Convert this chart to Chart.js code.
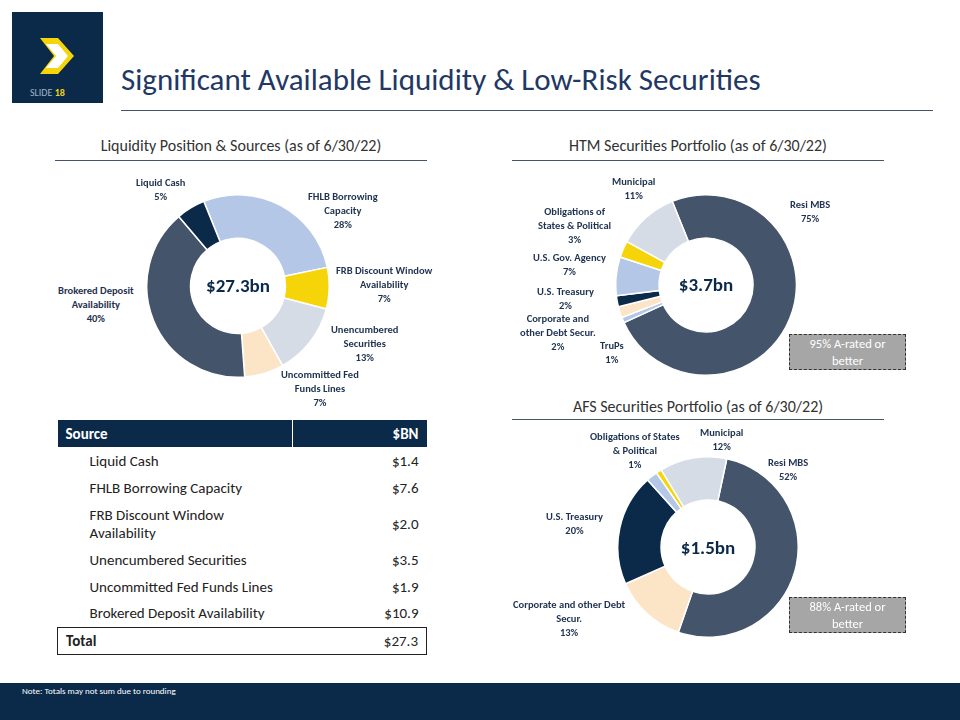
<!DOCTYPE html><html><head><meta charset="utf-8">
<script src="https://cdn.jsdelivr.net/npm/chart.js@4"></script>
<style>
body{margin:0;width:960px;height:720px;position:relative;font-family:Calibri,"Liberation Sans",Carlito,"Open Sans",sans-serif;background:#fff;overflow:hidden}
.a{position:absolute}
.lb{position:absolute;font-size:10.5px;font-weight:bold;color:#1F3350;text-align:center;line-height:14px;white-space:nowrap}
.st{position:absolute;font-size:16px;color:#333;text-align:center}
.ul{position:absolute;height:1px;background:#44546A}
.c{position:absolute;font-size:19px;font-weight:bold;color:#0B2A4A;text-align:center;width:100px}
table{border-collapse:collapse;font-size:15px;color:#222}
.badge{position:absolute;background:#A6A6A6;border:1.5px dashed #333;color:#fff;font-size:12.5px;text-align:center;line-height:17px}
</style></head><body>
<div class="a" style="left:12px;top:12px;width:91px;height:91px;background:#0B2A4A"></div>
<svg class="a" style="left:40px;top:38px" width="40" height="40"><polygon points="0,0 18,0 34,18 18,36 0,36 14,18" fill="#F5D50A"/><polygon points="6,6 18,6 28,18 18,30 6,30 16,18" fill="#fff"/></svg>
<div class="a" style="left:30px;top:86px;font-size:10px;color:#9FB3C8">SLIDE <b style="color:#F5D50A">18</b></div>
<div class="a" style="left:121px;top:60px;font-size:31px;color:#1F3864">Significant Available Liquidity &amp; Low-Risk Securities</div>
<div class="ul" style="left:121px;top:110px;width:812px"></div>
<div class="st" style="left:55px;top:136px;width:372px">Liquidity Position &amp; Sources (as of 6/30/22)</div>
<div class="ul" style="left:55px;top:160px;width:372px"></div>
<div class="st" style="left:512px;top:136px;width:372px">HTM Securities Portfolio (as of 6/30/22)</div>
<div class="ul" style="left:512px;top:160px;width:372px"></div>
<div class="st" style="left:512px;top:397px;width:372px">AFS Securities Portfolio (as of 6/30/22)</div>
<div class="ul" style="left:512px;top:419px;width:372px"></div>

<div class="a" style="left:146px;top:194px;width:184px;height:184px"><canvas id="c1" width="184" height="184"></canvas></div>
<div class="a" style="left:615px;top:194px;width:182px;height:182px"><canvas id="c2" width="182" height="182"></canvas></div>
<div class="a" style="left:617px;top:456px;width:182px;height:182px"><canvas id="c3" width="182" height="182"></canvas></div>
<div class="c" style="left:188px;top:274px">$27.3bn</div>
<div class="c" style="left:656px;top:273px">$3.7bn</div>
<div class="c" style="left:658px;top:536px">$1.5bn</div>

<div class="lb" style="left:136px;top:176px">Liquid Cash<br>5%</div>
<div class="lb" style="left:308px;top:190px">FHLB Borrowing<br>Capacity<br>28%</div>
<div class="lb" style="left:336px;top:264px">FRB Discount Window<br>Availability<br>7%</div>
<div class="lb" style="left:331px;top:323px">Unencumbered<br>Securities<br>13%</div>
<div class="lb" style="left:281px;top:368px">Uncommitted Fed<br>Funds Lines<br>7%</div>
<div class="lb" style="left:58px;top:284px">Brokered Deposit<br>Availability<br>40%</div>

<div class="lb" style="left:612px;top:175px">Municipal<br>11%</div>
<div class="lb" style="left:790px;top:198px">Resi MBS<br>75%</div>
<div class="lb" style="left:538px;top:205px">Obligations of<br>States &amp; Political<br>3%</div>
<div class="lb" style="left:533px;top:251px">U.S. Gov. Agency<br>7%</div>
<div class="lb" style="left:537px;top:285px">U.S. Treasury<br>2%</div>
<div class="lb" style="left:520px;top:312px">Corporate and<br>other Debt Secur.<br>2%</div>
<div class="lb" style="left:600px;top:339px">TruPs<br>1%</div>
<div class="badge" style="left:789px;top:334px;width:115px;height:34px">95% A-rated or<br>better</div>

<div class="lb" style="left:590px;top:430px">Obligations of States<br>&amp; Political<br>1%</div>
<div class="lb" style="left:700px;top:426px">Municipal<br>12%</div>
<div class="lb" style="left:768px;top:456px">Resi MBS<br>52%</div>
<div class="lb" style="left:546px;top:510px">U.S. Treasury<br>20%</div>
<div class="lb" style="left:513px;top:598px">Corporate and other Debt<br>Secur.<br>13%</div>
<div class="badge" style="left:789px;top:597px;width:115px;height:34px">88% A-rated or<br>better</div>

<div class="a" style="left:57px;top:420px;width:370px">
<table id="t" style="width:370px;table-layout:fixed"></table></div>

<div class="a" style="left:0;top:683px;width:960px;height:37px;background:#0B2A4A"></div>
<div class="a" style="left:22px;top:685px;font-size:9px;color:#fff">Note: Totals may not sum due to rounding</div>
<script>
const liqLabels=["FHLB Borrowing Capacity","FRB Discount Window Availability","Unencumbered Securities","Uncommitted Fed Funds Lines","Brokered Deposit Availability","Liquid Cash"];
const liqValues=[7.6,2.0,3.5,1.9,10.9,1.4];
const htmLabels=["Resi MBS","TruPs","Corporate and other Debt Secur.","U.S. Treasury","U.S. Gov. Agency","Obligations of States & Political","Municipal"];
const htmValues=[75,1,2,2,7,3,11];
const afsLabels=["Resi MBS","Corporate and other Debt Secur.","U.S. Treasury","Other","Obligations of States & Political","Municipal"];
const afsValues=[52,13,20,2,1,12];
const tableSources=["Liquid Cash","FHLB Borrowing Capacity","FRB Discount Window Availability","Unencumbered Securities","Uncommitted Fed Funds Lines","Brokered Deposit Availability"];
const tableValues=["$1.4","$7.6","$2.0","$3.5","$1.9","$10.9"];
const C={slate:"#44546A",lb:"#B4C7E7",y:"#F5D50A",g:"#D6DCE5",p:"#FCE4C6",n:"#0B2A4A"};
function dn(id,labels,data,colors,rot){new Chart(document.getElementById(id),{type:"doughnut",data:{labels,datasets:[{data,backgroundColor:colors,borderColor:"#fff",borderWidth:1.5}]},options:{responsive:false,animation:false,cutout:"52%",rotation:rot,plugins:{legend:{display:false},tooltip:{enabled:false}},layout:{padding:0}}});}
dn("c1",liqLabels,liqValues,[C.lb,C.y,C.g,C.p,C.slate,C.n],-22);
dn("c2",htmLabels,htmValues,[C.slate,C.lb,C.p,C.n,C.lb,C.y,C.g],-22);
dn("c3",afsLabels,afsValues,[C.slate,C.p,C.n,C.lb,C.y,C.g],12);
let h='<colgroup><col style="width:235px"><col></colgroup><tr style="background:#0B2A4A;color:#fff;font-weight:bold;height:27px"><td style="padding-left:8px;border-right:1px solid #fff">Source</td><td style="text-align:right;padding-right:8px">$BN</td></tr>';
tableSources.forEach((s,i)=>{const tall=s.startsWith("FRB");h+=`<tr style="height:${tall?45:27}px"><td style="padding-left:32px;white-space:nowrap">${s.replace("Window Availability","Window<br>Availability")}</td><td style="text-align:right;padding-right:8px">${tableValues[i]}</td></tr>`;});
h+='<tr style="height:27px;border:1.5px solid #222;font-weight:bold"><td style="padding-left:8px">Total</td><td style="text-align:right;padding-right:8px;font-weight:normal">$27.3</td></tr>';
document.getElementById("t").innerHTML=h;
</script></body></html>
